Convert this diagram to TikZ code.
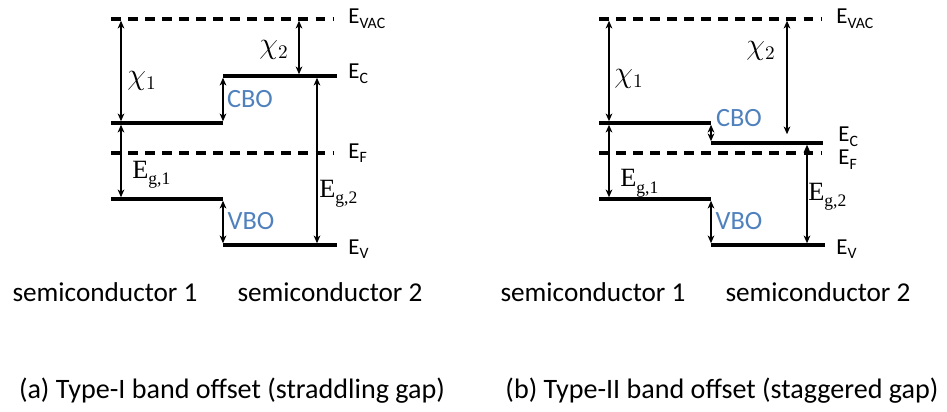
\documentclass[tikz,border=0pt]{standalone}
\usepackage{fontspec}
\setmainfont{Carlito}
\newfontfamily\tmsfont{Liberation Serif}
\usetikzlibrary{arrows.meta}
\definecolor{offblue}{RGB}{79,129,189}
\newcommand\esub[1]{\raisebox{-2.5pt}{\fontsize{9}{9}\selectfont #1}}
\newcommand\egap[1]{{\tmsfont\fontsize{15}{15}\selectfont E\raisebox{-3.5pt}{\fontsize{10}{10}\selectfont g,#1}}}

\begin{document}
\begin{tikzpicture}[x=0.02cm,y=-0.02cm,
    band/.style={line width=2pt},
    vac/.style={line width=2pt,dash pattern=on 5.6pt off 4.1pt},
    arr/.style={line width=0.8pt,shorten <=1pt,shorten >=1pt,
        {Stealth[length=4.4pt,width=3.8pt,inset=1.3pt]}-{Stealth[length=4.4pt,width=3.8pt,inset=1.3pt]}},
    elab/.style={anchor=base west,inner sep=0pt,font=\fontsize{13}{13}\selectfont},
    offlab/.style={text=offblue,inner sep=0pt,font=\fontsize{15}{15}\selectfont},
    chilab/.style={inner sep=0pt,font=\fontsize{16}{16}\selectfont},
    sclab/.style={inner sep=0pt,font=\fontsize{15.5}{16}\selectfont},
    caplab/.style={inner sep=0pt,font=\fontsize{16}{16}\selectfont}]
    \useasboundingbox (0,0) rectangle (947,412);

    % what both panels share, panel b sits 488 further right
    \foreach \p/\ox in {a/0,b/488}{
        \coordinate (\p-vac-l) at ({\ox+111},19);
        \coordinate (\p-vac-r) at ({\ox+334},19);
        \coordinate (\p-ef-l) at ({\ox+111},153);
        \coordinate (\p-ef-r) at ({\ox+334},153);
        \coordinate (\p-cb1-l) at ({\ox+111},123);
        \coordinate (\p-cb1-r) at ({\ox+223},123);
        \coordinate (\p-vb1-l) at ({\ox+111},199);
        \coordinate (\p-vb1-r) at ({\ox+223},199);
        \coordinate (\p-vb2-l) at ({\ox+223},245);
        \coordinate (\p-vb2-r) at ({\ox+337},245);
        \coordinate (\p-chi1-t) at ({\ox+121},19);
        \coordinate (\p-chi1-b) at ({\ox+121},123);
        \coordinate (\p-eg1-b) at ({\ox+121},199);

        \draw[vac] (\p-vac-l) -- (\p-vac-r);
        \draw[vac] (\p-ef-l) -- (\p-ef-r);
        \draw[band] (\p-cb1-l) -- (\p-cb1-r);
        \draw[band] (\p-vb1-l) -- (\p-vb1-r);
        \draw[band] (\p-vb2-l) -- (\p-vb2-r);
        \draw[arr] (\p-chi1-t) -- (\p-chi1-b);
        \draw[arr] (\p-chi1-b) -- (\p-eg1-b);
        \draw[arr] (\p-vb1-r) -- (\p-vb2-l);

        \node[elab] (\p-vac-lbl) at ({\ox+348},24) {E\esub{VAC}};
        \node[elab] (\p-ev-lbl) at ({\ox+348},254) {E\esub{V}};
        \node[offlab] (\p-vbo) at ({\ox+251},221) {VBO};
        \node[sclab] (\p-sc1) at ({\ox+105},292) {semiconductor 1};
        \node[sclab] (\p-sc2) at ({\ox+330},292) {semiconductor 2};
    }

    % (a) straddling gap
    \coordinate (a-cb2-l) at (223,76);
    \coordinate (a-cb2-r) at (337,76);
    \coordinate (a-chi2-t) at (299,19);
    \coordinate (a-chi2-b) at (299,76);
    \coordinate (a-eg2-t) at (317,76);
    \coordinate (a-eg2-b) at (317,245);
    \draw[band] (a-cb2-l) -- (a-cb2-r);
    \draw[arr] (a-cb1-r) -- (a-cb2-l);
    \draw[arr] (a-chi2-t) -- (a-chi2-b);
    \draw[arr] (a-eg2-t) -- (a-eg2-b);
    \node[elab] (a-ec-lbl) at (348,79) {E\esub{C}};
    \node[elab] (a-ef-lbl) at (348,158) {E\esub{F}};
    \node[chilab] (a-chi1) at (142,81) {$\chi_1$};
    \node[chilab] (a-chi2) at (274,50) {$\chi_2$};
    \node[anchor=base west,inner sep=0pt] (a-eg1) at (132,178) {\egap{1}};
    \node[anchor=base west,inner sep=0pt] (a-eg2) at (319,197) {\egap{2}};
    \node[offlab] (a-cbo) at (250,99) {CBO};
    \node[caplab] (a-cap) at (232,391) {(a) Type-I band offset (straddling gap)};

    % (b) staggered gap
    \coordinate (b-cb2-l) at (711,143);
    \coordinate (b-cb2-r) at (823,143);
    \coordinate (b-chi2-t) at (787,19);
    \coordinate (b-chi2-b) at (787,136);
    \coordinate (b-eg2-t) at (807,143);
    \coordinate (b-eg2-b) at (807,245);
    \draw[band] (b-cb2-l) -- (b-cb2-r);
    \draw[arr] (b-cb1-r) -- (b-cb2-l);
    \draw[arr] (b-chi2-t) -- (b-chi2-b);
    \draw[arr] (b-eg2-t) -- (b-eg2-b);
    \node[elab] (b-ec-lbl) at (838,142) {E\esub{C}};
    \node[elab] (b-ef-lbl) at (838,165) {E\esub{F}};
    \node[chilab] (b-chi1) at (629,79) {$\chi_1$};
    \node[chilab] (b-chi2) at (761,51) {$\chi_2$};
    \node[anchor=base west,inner sep=0pt] (b-eg1) at (620,187) {\egap{1}};
    \node[anchor=base west,inner sep=0pt] (b-eg2) at (808,200) {\egap{2}};
    \node[offlab] (b-cbo) at (739,118) {CBO};
    \node[caplab] (b-cap) at (722,391) {(b) Type-II band offset (staggered gap)};
\end{tikzpicture}
\end{document}
